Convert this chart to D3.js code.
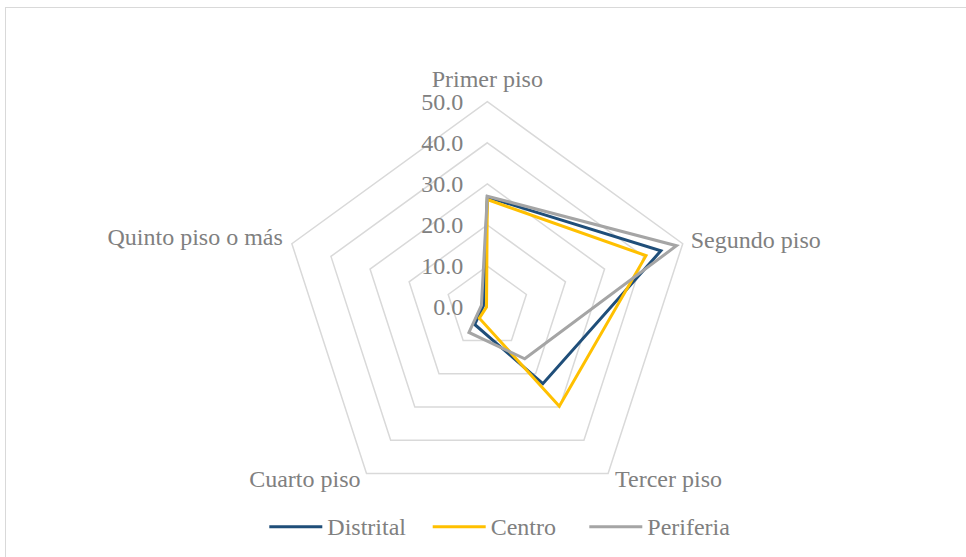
<!DOCTYPE html>
<html>
<head>
<meta charset="utf-8">
<script src="https://cdn.jsdelivr.net/npm/d3@7"></script>
<style>
  body { margin: 0; background: #fff; }
  svg { display: block; }
  text { font-family: "Liberation Serif", "Times New Roman", serif; fill: #808080; }
</style>
</head>
<body>
<div id="chart"></div>
<script>
// categorias (ejes del radar)
var categories = ["Primer piso", "Segundo piso", "Tercer piso", "Cuarto piso", "Quinto piso o más"];
// valores por serie (%)
var distrital = [26.8, 44.4, 23.0, 5.2, 1.0];
var centro = [26.2, 40.6, 29.8, 3.3, 0.2];
var periferia = [27.0, 48.4, 15.5, 7.6, 1.5];
var seriesNames = ["Distrital", "Centro", "Periferia"];
var seriesColors = ["#1f4e79", "#ffc000", "#a5a5a5"];
var ticks = [0, 10, 20, 30, 40, 50];

var width = 966, height = 557;
var cx = 487.3, cy = 307.2;

var svg = d3.select("#chart").append("svg")
    .attr("width", width)
    .attr("height", height);

// borde del grafico
svg.append("rect")
    .attr("x", 5.5).attr("y", 7.5)
    .attr("width", 975).attr("height", 570)
    .attr("fill", "none")
    .attr("stroke", "#d9d9d9")
    .attr("stroke-width", 1);

var r = d3.scaleLinear().domain([0, 50]).range([0, 205.5]);
var angle = d3.scalePoint().domain(categories.concat(["_end"])).range([0, 2 * Math.PI]);

function pt(cat, v) {
    var a = angle(cat);
    return [cx + r(v) * Math.sin(a), cy - r(v) * Math.cos(a)];
}

// anillos de la rejilla
var g = svg.append("g");
ticks.filter(function(t) { return t > 0; }).forEach(function(t) {
    g.append("path")
        .attr("d", d3.line()(categories.map(function(c) { return pt(c, t); })) + "Z")
        .attr("fill", "none")
        .attr("stroke", "#d9d9d9")
        .attr("stroke-width", 1.5);
});

// etiquetas de los valores
g.selectAll(".tick").data(ticks).enter().append("text")
    .attr("x", cx - 24)
    .attr("y", function(d) { return cy - r(d) + 8; })
    .style("text-anchor", "end")
    .style("font-size", "24px")
    .text(function(d) { return d3.format(".1f")(d); });

// series
var data = [distrital, centro, periferia];
data.forEach(function(vals, i) {
    var pts = categories.map(function(c, k) { return pt(c, vals[k]); });
    svg.append("path")
        .attr("d", d3.line()(pts) + "Z")
        .attr("fill", "none")
        .attr("stroke", seriesColors[i])
        .attr("stroke-width", 3)
        .attr("stroke-linejoin", "miter");
});

// etiquetas de las categorias
var labelPos = [
    {dx: 0, dy: -15, anchor: "middle"},
    {dx: 8, dy: 4, anchor: "start"},
    {dx: 7, dy: 14, anchor: "start"},
    {dx: -6, dy: 14, anchor: "end"},
    {dx: -9, dy: 1, anchor: "end"}
];
categories.forEach(function(c, k) {
    var p = pt(c, 50);
    svg.append("text")
        .attr("x", p[0] + labelPos[k].dx)
        .attr("y", p[1] + labelPos[k].dy)
        .style("text-anchor", labelPos[k].anchor)
        .style("font-size", "24px")
        .text(c);
});

// leyenda
var legX = [269.3, 432.7, 589.3];
var leg = svg.selectAll(".legend").data(seriesNames).enter().append("g")
    .attr("transform", function(d, i) { return "translate(" + legX[i] + ",526.7)"; });
leg.append("line")
    .attr("x1", 0).attr("x2", 53)
    .attr("stroke", function(d, i) { return seriesColors[i]; })
    .attr("stroke-width", 3);
leg.append("text")
    .attr("x", 58).attr("y", 8)
    .style("font-size", "24px")
    .text(function(d) { return d; });
</script>
</body>
</html>
